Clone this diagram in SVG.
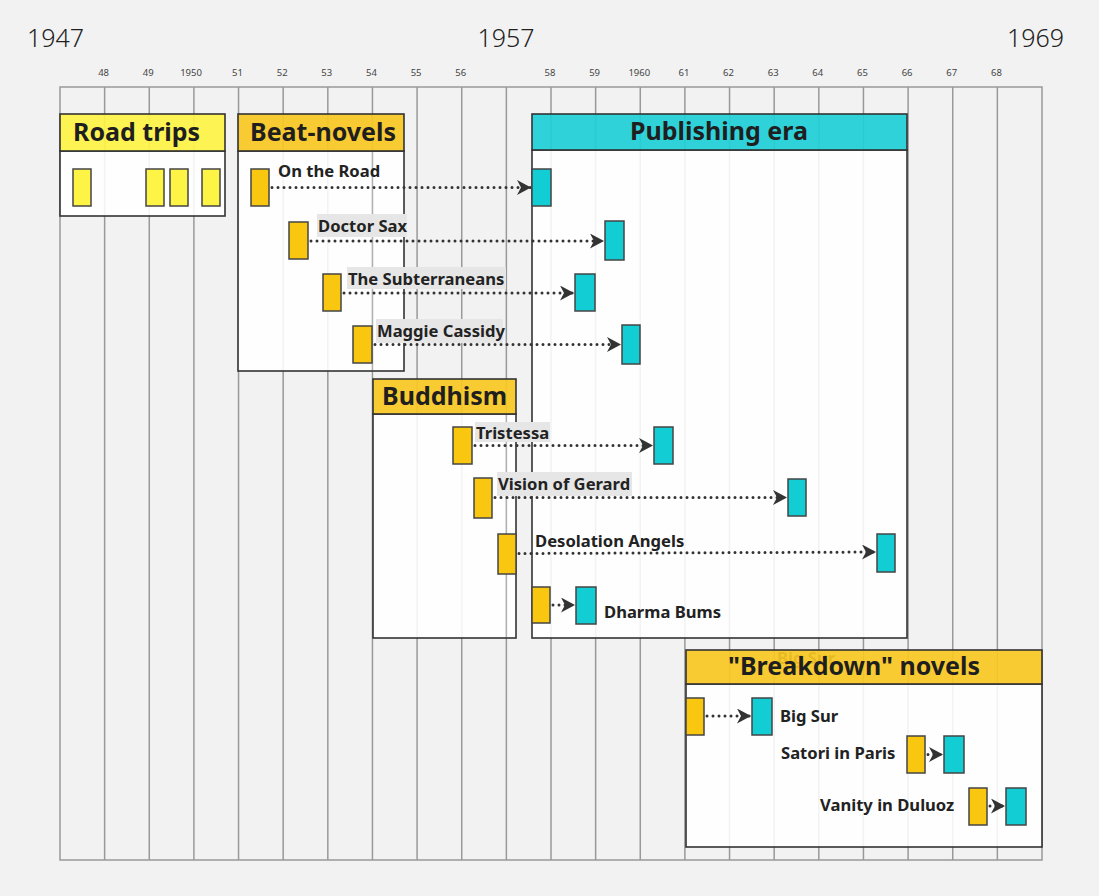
<svg xmlns="http://www.w3.org/2000/svg" width="1099" height="896" viewBox="0 0 1099 896">
<defs>
<marker id="arr" markerUnits="userSpaceOnUse" markerWidth="16" markerHeight="16" refX="14" refY="7.5" orient="auto" viewBox="0 0 16 16">
<path d="M0,0 L14,7.5 L0,15 L4,7.5 Z" fill="#333"/>
</marker>
<style>
.grid{stroke:#999;stroke-width:1.5;fill:none}
.yr{font-family:"Noto Sans","Open Sans",sans-serif;font-size:9.5px;fill:#444;text-anchor:middle}
.big{font-family:"Noto Sans","Open Sans",sans-serif;font-size:25px;font-weight:300;fill:#222}
.body{fill:#fff;fill-opacity:0.88;stroke:#333;stroke-width:1.6}
.hy{fill:#FEF445;fill-opacity:0.92;stroke:#333;stroke-width:1.6}
.hg{fill:#F9C823;fill-opacity:0.92;stroke:#333;stroke-width:1.6}
.hc{fill:#1ECFD7;fill-opacity:0.92;stroke:#333;stroke-width:1.6}
.ht{font-family:"Noto Sans","Open Sans",sans-serif;font-size:25px;font-weight:700;fill:#1f1f1f}
.lbl{font-family:"Noto Sans","Open Sans",sans-serif;font-size:16.6px;font-weight:700;fill:#222}
.lbg{fill:#e6e6e6}
.by{fill:#FEF445;stroke:#444;stroke-width:1.5}
.bg{fill:#FAC710;stroke:#444;stroke-width:1.5}
.bc{fill:#12CDD4;stroke:#444;stroke-width:1.5}
.con{stroke:#333;stroke-width:3;stroke-dasharray:0 6;stroke-linecap:round;fill:none}
.inner{stroke:#b0b0b0;stroke-width:1.5}
</style>
</defs>
<rect x="0" y="0" width="1099" height="896" fill="#f2f2f2"/>

<g id="axis">
<text class="big" x="27" y="47">1947</text>
<text class="big" x="506" y="47" text-anchor="middle">1957</text>
<text class="big" x="1064" y="47" text-anchor="end">1969</text>
<text class="yr" x="103.6" y="76">48</text>
<text class="yr" x="148.3" y="76">49</text>
<text class="yr" x="191" y="76">1950</text>
<text class="yr" x="237.5" y="76">51</text>
<text class="yr" x="282.2" y="76">52</text>
<text class="yr" x="326.8" y="76">53</text>
<text class="yr" x="371.5" y="76">54</text>
<text class="yr" x="416.1" y="76">55</text>
<text class="yr" x="460.7" y="76">56</text>
<text class="yr" x="550" y="76">58</text>
<text class="yr" x="594.6" y="76">59</text>
<text class="yr" x="639.3" y="76">1960</text>
<text class="yr" x="683.9" y="76">61</text>
<text class="yr" x="728.5" y="76">62</text>
<text class="yr" x="773.2" y="76">63</text>
<text class="yr" x="817.8" y="76">64</text>
<text class="yr" x="862.5" y="76">65</text>
<text class="yr" x="907.1" y="76">66</text>
<text class="yr" x="951.7" y="76">67</text>
<text class="yr" x="996.4" y="76">68</text>
</g>

<g id="grid" class="grid">
<rect x="60" y="87" width="982" height="773"/>
<path d="M104.64,87V860 M149.27,87V860 M193.91,87V860 M238.55,87V860 M283.18,87V860 M327.82,87V860 M372.45,87V860 M417.09,87V860 M461.73,87V860 M506.36,87V860 M551,87V860 M595.64,87V860 M640.27,87V860 M684.91,87V860 M729.55,87V860 M774.18,87V860 M818.82,87V860 M863.45,87V860 M908.09,87V860 M952.73,87V860 M997.36,87V860"/>
</g>

<g id="road-trips">
<rect class="body" x="60" y="151" width="165" height="65"/>
<rect class="hy" x="60" y="114" width="165" height="37"/>
<text class="ht" x="73" y="141">Road trips</text>
<rect class="by" x="73" y="169" width="18" height="37"/>
<rect class="by" x="146" y="169" width="18" height="37"/>
<rect class="by" x="170" y="169" width="18" height="37"/>
<rect class="by" x="202" y="169" width="18" height="37"/>
</g>

<g id="beat-novels">
<rect class="body" x="238" y="151" width="166" height="220"/>
<line class="inner" x1="372.45" y1="152" x2="372.45" y2="370"/>
<rect class="hg" x="238" y="114" width="166" height="37"/>
<text class="ht" x="250" y="141">Beat-novels</text>
</g>

<g id="publishing-era">
<rect class="body" x="532" y="150" width="375" height="488"/>
<rect class="hc" x="532" y="114" width="375" height="36"/>
<text class="ht" x="719" y="140" text-anchor="middle">Publishing era</text>
</g>

<g id="buddhism">
<rect class="body" x="373" y="414" width="143" height="224"/>
<line class="inner" x1="506.36" y1="415" x2="506.36" y2="637"/>
<rect class="hg" x="373" y="379" width="143" height="35"/>
<text class="ht" x="382" y="405">Buddhism</text>
</g>

<g id="breakdown-novels">
<rect class="body" x="686" y="684" width="356" height="163"/>
<text class="lbl" x="777" y="664">Big Sur</text>
<rect class="hg" x="686" y="650" width="356" height="34"/>
<text class="ht" x="854" y="675" text-anchor="middle">"Breakdown" novels</text>
</g>

<g id="connectors">
<line class="con" x1="272" y1="187.5" x2="531" y2="187.5" marker-end="url(#arr)"/>
<line class="con" x1="311" y1="241" x2="604" y2="241" marker-end="url(#arr)"/>
<line class="con" x1="344" y1="293" x2="574" y2="293" marker-end="url(#arr)"/>
<line class="con" x1="375" y1="344.5" x2="621" y2="344.5" marker-end="url(#arr)"/>
<line class="con" x1="475" y1="445.5" x2="653" y2="445.5" marker-end="url(#arr)"/>
<line class="con" x1="495" y1="497.5" x2="787" y2="497.5" marker-end="url(#arr)"/>
<line class="con" x1="519" y1="553.5" x2="876" y2="552" marker-end="url(#arr)"/>
<line class="con" x1="553" y1="605" x2="575" y2="605" marker-end="url(#arr)"/>
<line class="con" x1="707" y1="716" x2="751" y2="716" marker-end="url(#arr)"/>
<line class="con" x1="928" y1="754.5" x2="943" y2="754.5" marker-end="url(#arr)"/>
<line class="con" x1="990" y1="806" x2="1005" y2="806" marker-end="url(#arr)"/>
</g>

<g id="on-the-road">
<rect class="bg" x="251" y="169" width="18" height="37"/>
<text class="lbl" x="278" y="177">On the Road</text>
<rect class="bc" x="532" y="169" width="19" height="37"/>
</g>

<g id="doctor-sax">
<rect class="bg" x="289" y="222" width="19" height="37"/>
<rect class="lbg" x="317" y="214" width="90" height="23"/>
<text class="lbl" x="318" y="232">Doctor Sax</text>
<rect class="bc" x="605" y="221" width="19" height="39"/>
</g>

<g id="the-subterraneans">
<rect class="bg" x="323" y="274" width="18" height="37"/>
<rect class="lbg" x="347" y="267" width="159" height="22"/>
<text class="lbl" x="348" y="285">The Subterraneans</text>
<rect class="bc" x="575" y="274" width="20" height="37"/>
</g>

<g id="maggie-cassidy">
<rect class="bg" x="353" y="326" width="19" height="37"/>
<rect class="lbg" x="376" y="319" width="127" height="24"/>
<text class="lbl" x="377" y="337">Maggie Cassidy</text>
<rect class="bc" x="622" y="325" width="18" height="39"/>
</g>

<g id="tristessa">
<rect class="bg" x="453" y="427" width="19" height="37"/>
<rect class="lbg" x="475" y="422" width="75" height="20"/>
<text class="lbl" x="476" y="439">Tristessa</text>
<rect class="bc" x="654" y="427" width="19" height="37"/>
</g>

<g id="vision-of-gerard">
<rect class="bg" x="474" y="478" width="18" height="40"/>
<rect class="lbg" x="497" y="472" width="135" height="24"/>
<text class="lbl" x="498" y="490">Vision of Gerard</text>
<rect class="bc" x="788" y="479" width="18" height="37"/>
</g>

<g id="desolation-angels">
<rect class="bg" x="498" y="534" width="18" height="40"/>
<text class="lbl" x="535" y="547">Desolation Angels</text>
<rect class="bc" x="877" y="534" width="18" height="38"/>
</g>

<g id="dharma-bums">
<rect class="bg" x="532" y="587" width="18" height="36"/>
<rect class="bc" x="576" y="587" width="20" height="37"/>
<text class="lbl" x="604" y="618">Dharma Bums</text>
</g>

<g id="big-sur">
<rect class="bg" x="686" y="698" width="18" height="37"/>
<rect class="bc" x="752" y="698" width="20" height="37"/>
<text class="lbl" x="780" y="722">Big Sur</text>
</g>

<g id="satori-in-paris">
<text class="lbl" x="781" y="759">Satori in Paris</text>
<rect class="bg" x="907" y="736" width="18" height="37"/>
<rect class="bc" x="944" y="736" width="20" height="37"/>
</g>

<g id="vanity-of-duluoz">
<text class="lbl" x="820" y="811">Vanity in Duluoz</text>
<rect class="bg" x="969" y="788" width="18" height="37"/>
<rect class="bc" x="1006" y="788" width="20" height="37"/>
</g>
</svg>
